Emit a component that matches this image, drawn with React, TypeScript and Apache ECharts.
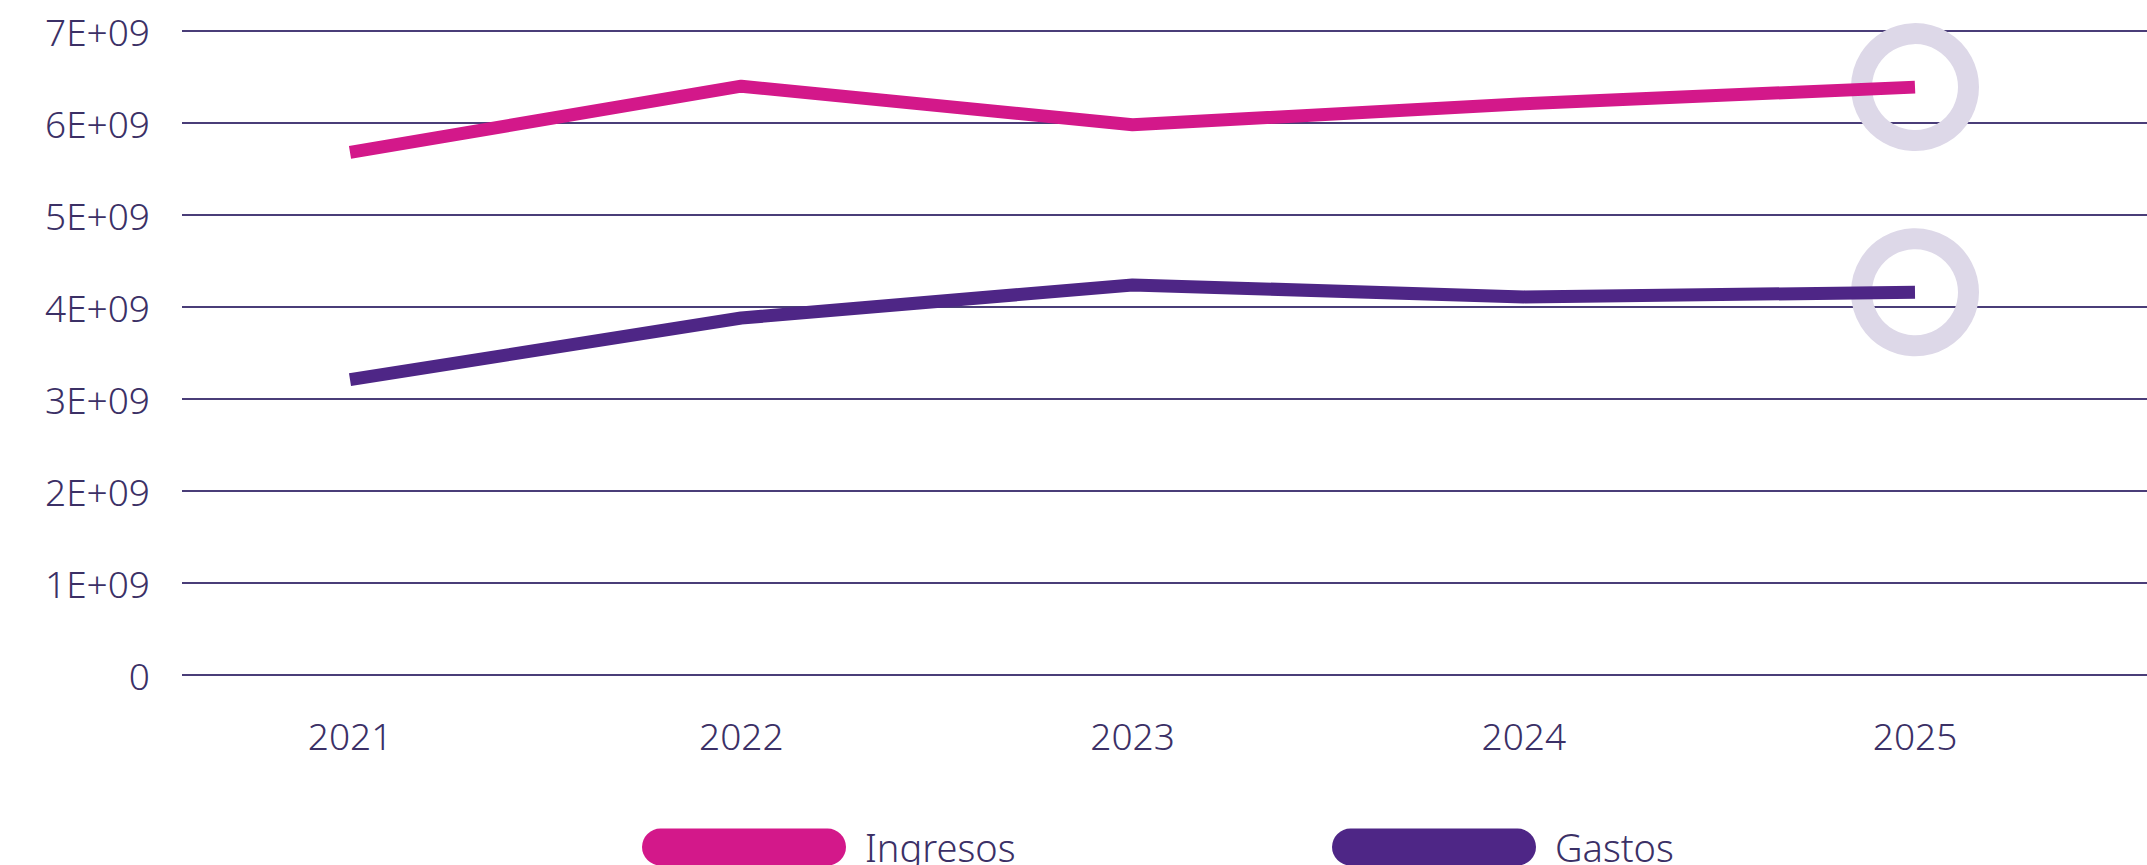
import React, { useEffect, useRef } from "react";
import * as echarts from "echarts";

const years = ["2021", "2022", "2023", "2024", "2025"];
const ingresos = [5.68e9, 6.4e9, 5.98e9, 6.21e9, 6.39e9];
const gastos = [3.21e9, 3.88e9, 4.24e9, 4.11e9, 4.16e9];
const yTickLabels = ["0", "1E+09", "2E+09", "3E+09", "4E+09", "5E+09", "6E+09", "7E+09"];
const seriesNames = ["Ingresos", "Gastos"];

const PINK = "#d3188a";
const PURPLE = "#4e2686";
const GRID = "#4a3d78";
const TEXT = "#3b3066";
const RING = "#ddd8e8";
const FONT = "'Noto Sans', sans-serif";

const pill = "path://M18.5,0 H185.5 A18.5,18.5 0 0 1 185.5,37 H18.5 A18.5,18.5 0 0 1 18.5,0 Z";

export default function App() {
  const ref = useRef<HTMLDivElement>(null);
  useEffect(() => {
    if (!ref.current) return;
    const chart = echarts.init(ref.current, null, { renderer: "svg" });
    const last = years.length - 1;
    const legendCommon = {
      orient: "horizontal",
      top: 823,
      itemWidth: 204,
      itemHeight: 37,
      icon: pill,
      textStyle: { fontSize: 38, color: TEXT, fontFamily: FONT, fontWeight: 300, padding: [0, 0, 0, 14] },
      itemStyle: { borderWidth: 0 },
      lineStyle: { width: 0 },
    };
    chart.setOption({
      animation: false,
      backgroundColor: "#ffffff",
      grid: [
        { left: 182, right: 0, top: 31, bottom: 190 },
        { left: 350, right: 232, top: 31, bottom: 190 },
      ],
      xAxis: [
        { type: "value", gridIndex: 0, show: false, min: 0, max: 1 },
        {
          type: "category",
          gridIndex: 1,
          data: years,
          boundaryGap: false,
          axisLine: { show: false },
          axisTick: { show: false },
          splitLine: { show: false },
          axisLabel: { fontSize: 37, color: TEXT, fontFamily: FONT, fontWeight: 300, margin: 42 },
        },
      ],
      yAxis: [
        {
          type: "value",
          gridIndex: 0,
          min: 0,
          max: 7e9,
          interval: 1e9,
          axisLine: { show: false },
          axisTick: { show: false },
          splitLine: { show: true, lineStyle: { color: GRID, width: 2 } },
          axisLabel: {
            fontSize: 37,
            color: TEXT,
            fontFamily: FONT,
            fontWeight: 300,
            margin: 32,
            formatter: (v: number) => yTickLabels[Math.round(v / 1e9)] ?? "",
          },
        },
        { type: "value", gridIndex: 1, min: 0, max: 7e9, interval: 1e9, show: false, splitLine: { show: false } },
      ],
      legend: [
        { ...legendCommon, left: 637, data: [seriesNames[0]] },
        { ...legendCommon, left: 1327, data: [seriesNames[1]] },
      ],
      series: [
        {
          name: "rings",
          type: "scatter",
          xAxisIndex: 1,
          yAxisIndex: 1,
          z: 1,
          symbol: "circle",
          symbolSize: 107,
          silent: true,
          itemStyle: { color: "rgba(0,0,0,0)", borderColor: RING, borderWidth: 21, opacity: 1 },
          data: [
            [last, ingresos[last]],
            [last, gastos[last]],
          ],
        },
        {
          name: seriesNames[0],
          type: "line",
          xAxisIndex: 1,
          yAxisIndex: 1,
          z: 3,
          data: ingresos,
          color: PINK,
          showSymbol: false,
          symbol: "none",
          lineStyle: { color: PINK, width: 13, cap: "butt", join: "round" },
        },
        {
          name: seriesNames[1],
          type: "line",
          xAxisIndex: 1,
          yAxisIndex: 1,
          z: 3,
          data: gastos,
          color: PURPLE,
          showSymbol: false,
          symbol: "none",
          lineStyle: { color: PURPLE, width: 13, cap: "butt", join: "round" },
        },
      ],
    });
    return () => chart.dispose();
  }, []);
  return (
    <div
      ref={ref}
      style={{ position: "fixed", left: 0, top: 0, width: 2147, height: 865, background: "#fff" }}
    />
  );
}
